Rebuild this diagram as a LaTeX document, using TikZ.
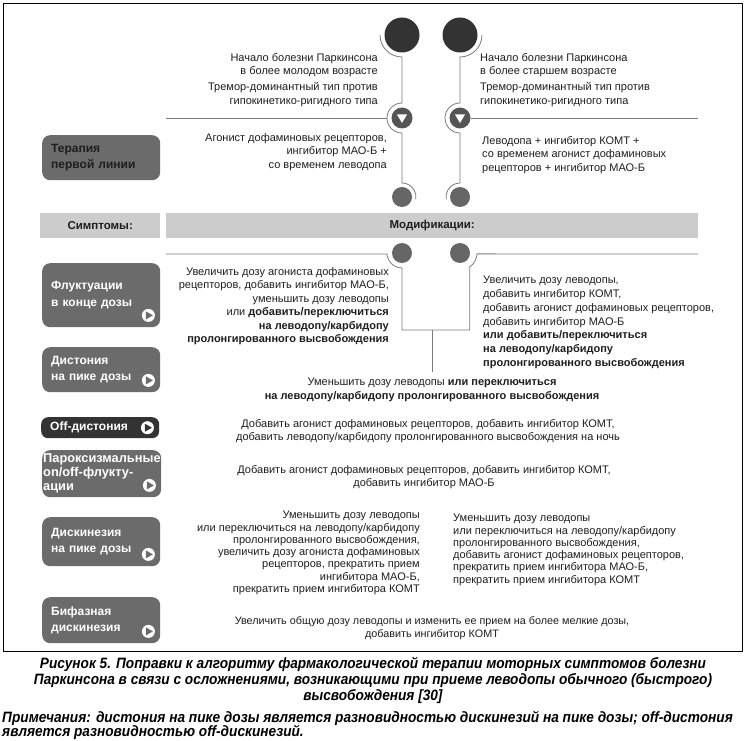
\documentclass[tikz,border=0pt]{standalone}
\usepackage{fontspec}
\setmainfont{Liberation Sans}
\newfontfamily\capfont[FakeStretch=0.91]{Liberation Sans}
\newfontfamily\notefont[FakeStretch=0.912]{Liberation Sans}
\usetikzlibrary{calc}
\definecolor{boxgray}{HTML}{6B6B6B}
\definecolor{boxdark}{HTML}{333333}
\definecolor{bargray}{HTML}{CCCCCC}
\definecolor{linegray}{HTML}{7A7A7A}
\definecolor{circdark}{HTML}{333333}
\definecolor{circmid}{HTML}{555555}
\definecolor{circlight}{HTML}{666666}
\definecolor{txtc}{HTML}{1E1E1E}
\begin{document}
\begin{tikzpicture}[x=1pt,y=1pt,
  ln/.style={draw=linegray, line width=0.8pt},
  body/.style={font=\fontsize{11}{13.5}\selectfont, text=txtc, inner sep=0pt},
  tight/.style={font=\fontsize{11}{12.3}\selectfont, text=txtc, inner sep=0pt},
  symbox/.style={fill=boxgray, rounded corners=8pt, text width=100pt, align=left,
    inner xsep=9pt, inner ysep=0pt, text=white, font=\bfseries\fontsize{12}{16.5}\selectfont, anchor=north west},
  bar/.style={fill=bargray, inner sep=0pt, anchor=north west, minimum height=25pt,
    font=\bfseries\fontsize{11.5}{13}\selectfont, text=txtc},
  playc/.style={circle, fill=white, minimum size=13pt, inner sep=0pt},
  bigc/.style={circle, fill=circdark, minimum size=35pt, inner sep=0pt},
  tric/.style={circle, fill=circmid, minimum size=21pt, inner sep=0pt},
  smc/.style={circle, fill=circlight, minimum size=20pt, inner sep=0pt},
  captext/.style={font=\capfont\bfseries\itshape\fontsize{15}{16}\selectfont, text=black, inner sep=0pt}
]
\useasboundingbox (0,0) rectangle (747,-741);
\draw[line width=0.9pt] (3,-3) rectangle (742,-651);

% circles
\node[bigc] (c1) at (402,-35) {};
\node[bigc] (c2) at (460,-35) {};
\node[tric] (t1) at (402,-118) {};
\node[tric] (t2) at (460,-118) {};
\node[smc] (s1) at (402,-197) {};
\node[smc] (s2) at (460,-197) {};
\node[smc] (l1) at (402,-253) {};
\node[smc] (l2) at (460,-253) {};
\foreach \t in {t1,t2}{
  \fill[white] ($(\t)+(-5,3.5)$) -- ($(\t)+(5,3.5)$) -- ($(\t)+(0,-5)$) -- cycle;
}

% coordinates for free ends
\coordinate (h1l) at (166,-118);
\coordinate (h1r) at (698,-118);
\coordinate (h2l) at (166,-254);
\coordinate (h2r) at (698,-254);
\coordinate (bm) at (432,-330);
\coordinate (drop) at (432,-372);

% chains
\draw[ln] ($(c1)+(-22,0)$) arc[start angle=180,end angle=270,radius=22]
  -- ($(t1)+(0,15)$) arc[start angle=90,end angle=270,radius=15]
  -- ($(s1)+(0,14)$) arc[start angle=90,end angle=-10,radius=14];
\draw[ln] ($(c2)+(22,0)$) arc[start angle=0,end angle=-90,radius=22]
  -- ($(t2)+(0,15)$) arc[start angle=90,end angle=270,radius=15]
  -- ($(s2)+(0,14)$) arc[start angle=90,end angle=190,radius=14];
\draw[ln] (h1l) -- ($(t1)+(-15,0)$);
\draw[ln] (t2.east) -- (h1r);
\draw[ln] (h2l) -- ($(l1)+(-15,-1)$) arc[start angle=184,end angle=270,radius=15]
  |- (bm) -| ($(l2)+({17*cos(-55)},{17*sin(-55)})$) arc[start angle=-55,end angle=-3,radius=17]
  -- (h2r);
\draw[ln] (bm) -- (drop);

% bars
\node[bar, minimum width=120pt] (symp) at (40,-213) {Симптомы:};
\node[bar, minimum width=532pt] (modif) at (166,-213) {Модификации:};

% symptom boxes
\node[symbox, minimum height=45pt, text=txtc] (b0) at (42,-135) {Терапия\\первой линии};
\node[symbox, minimum height=64pt] (b1) at (42,-263) {Флуктуации\\в конце дозы};
\node[symbox, minimum height=45pt] (b2) at (42,-347) {Дистония\\на пике дозы};
\node[symbox, fill=boxdark, minimum height=21pt, rounded corners=7pt] (b3) at (41,-417) {Off-дистония};
\node[symbox, minimum height=47pt, inner xsep=1pt, text width=117pt, font=\bfseries\fontsize{12.8}{14}\selectfont] (b4) at (42,-450) {Пароксизмальные\\on/off-флукту-\\ации};
\node[symbox, minimum height=49pt] (b5) at (42,-517) {Дискинезия\\на пике дозы};
\node[symbox, minimum height=46pt] (b6) at (42,-597) {Бифазная\\дискинезия};

\foreach \b/\f in {b1/boxgray,b2/boxgray,b4/boxgray,b5/boxgray,b6/boxgray}{
  \node[playc] (p\b) at ($(\b.south east)+(-12,12)$) {};
  \fill[\f] ($(p\b)+(-2.5,4)$) -- ($(p\b)+(4.5,0)$) -- ($(p\b)+(-2.5,-4)$) -- cycle;
}
\node[playc] (pb3) at ($(b3.east)+(-12,0)$) {};
\fill[boxdark] ($(pb3)+(-2.5,4)$) -- ($(pb3)+(4.5,0)$) -- ($(pb3)+(-2.5,-4)$) -- cycle;

% top texts
\node[body, anchor=north east, align=right] (tl) at (378,-53) {Начало болезни Паркинсона\\в более молодом возрасте\\[2.5pt]Тремор-доминантный тип против\\гипокинетико-ригидного типа};
\node[body, anchor=north west, align=left] (tr) at (480,-53) {Начало болезни Паркинсона\\в более старшем возрасте\\[2.5pt]Тремор-доминантный тип против\\гипокинетико-ригидного типа};
\node[body, anchor=north east, align=right] (ml) at (387,-133) {Агонист дофаминовых рецепторов,\\ингибитор МАО-Б +\\со временем леводопа};
\node[body, anchor=north west, align=left] (mr) at (482,-136) {Леводопа + ингибитор КОМТ +\\со временем агонист дофаминовых\\рецепторов + ингибитор МАО-Б};

% fluctuations
\node[body, anchor=north east, align=right] (fl) at (389,-267) {Увеличить дозу агониста дофаминовых\\рецепторов, добавить ингибитор МАО-Б,\\уменьшить дозу леводопы\\или \textbf{добавить/переключиться}\\\textbf{на леводопу/карбидопу}\\\textbf{пролонгированного высвобождения}};
\node[body, anchor=north west, align=left, font=\fontsize{11}{13.8}\selectfont] (fr) at (483,-276) {Увеличить дозу леводопы,\\добавить ингибитор КОМТ,\\добавить агонист дофаминовых рецепторов,\\добавить ингибитор МАО-Б\\\textbf{или добавить/переключиться}\\\textbf{на леводопу/карбидопу}\\\textbf{пролонгированного высвобождения}};
\node[body, anchor=north, align=center] (dc) at (432,-378) {Уменьшить дозу леводопы \textbf{или переключиться}\\\textbf{на леводопу/карбидопу пролонгированного высвобождения}};

% other rows
\node[body, anchor=north, align=center] (off) at (428,-419) {Добавить агонист дофаминовых рецепторов, добавить ингибитор КОМТ,\\добавить леводопу/карбидопу пролонгированного высвобождения на ночь};
\node[body, anchor=north, align=center] (par) at (424,-465) {Добавить агонист дофаминовых рецепторов, добавить ингибитор КОМТ,\\добавить ингибитор МАО-Б};
\node[tight, anchor=north east, align=right] (dl) at (420,-511) {Уменьшить дозу леводопы\\или переключиться на леводопу/карбидопу\\пролонгированного высвобождения,\\увеличить дозу агониста дофаминовых\\рецепторов, прекратить прием\\ингибитора МАО-Б,\\прекратить прием ингибитора КОМТ};
\node[tight, anchor=north west, align=left] (dr) at (453,-514) {Уменьшить дозу леводопы\\или переключиться на леводопу/карбидопу\\пролонгированного высвобождения,\\добавить агонист дофаминовых рецепторов,\\прекратить прием ингибитора МАО-Б,\\прекратить прием ингибитора КОМТ};
\node[body, anchor=north, align=center, font=\fontsize{10.8}{13.5}\selectfont] (bi) at (432,-616) {Увеличить общую дозу леводопы и изменить ее прием на более мелкие дозы,\\добавить ингибитор КОМТ};

% caption
\node[captext, anchor=north, align=center] (capt) at (373,-657) {Рисунок 5. Поправки к алгоритму фармакологической терапии моторных симптомов болезни\\Паркинсона в связи с осложнениями, возникающими при приеме леводопы обычного (быстрого)\\высвобождения [30]};
\node[captext, anchor=north west, align=left, font=\notefont\bfseries\itshape\fontsize{15}{14.5}\selectfont] (note) at (2,-711) {Примечания: дистония на пике дозы является разновидностью дискинезий на пике дозы; off-дистония\\является разновидностью off-дискинезий.};
\end{tikzpicture}
\end{document}
